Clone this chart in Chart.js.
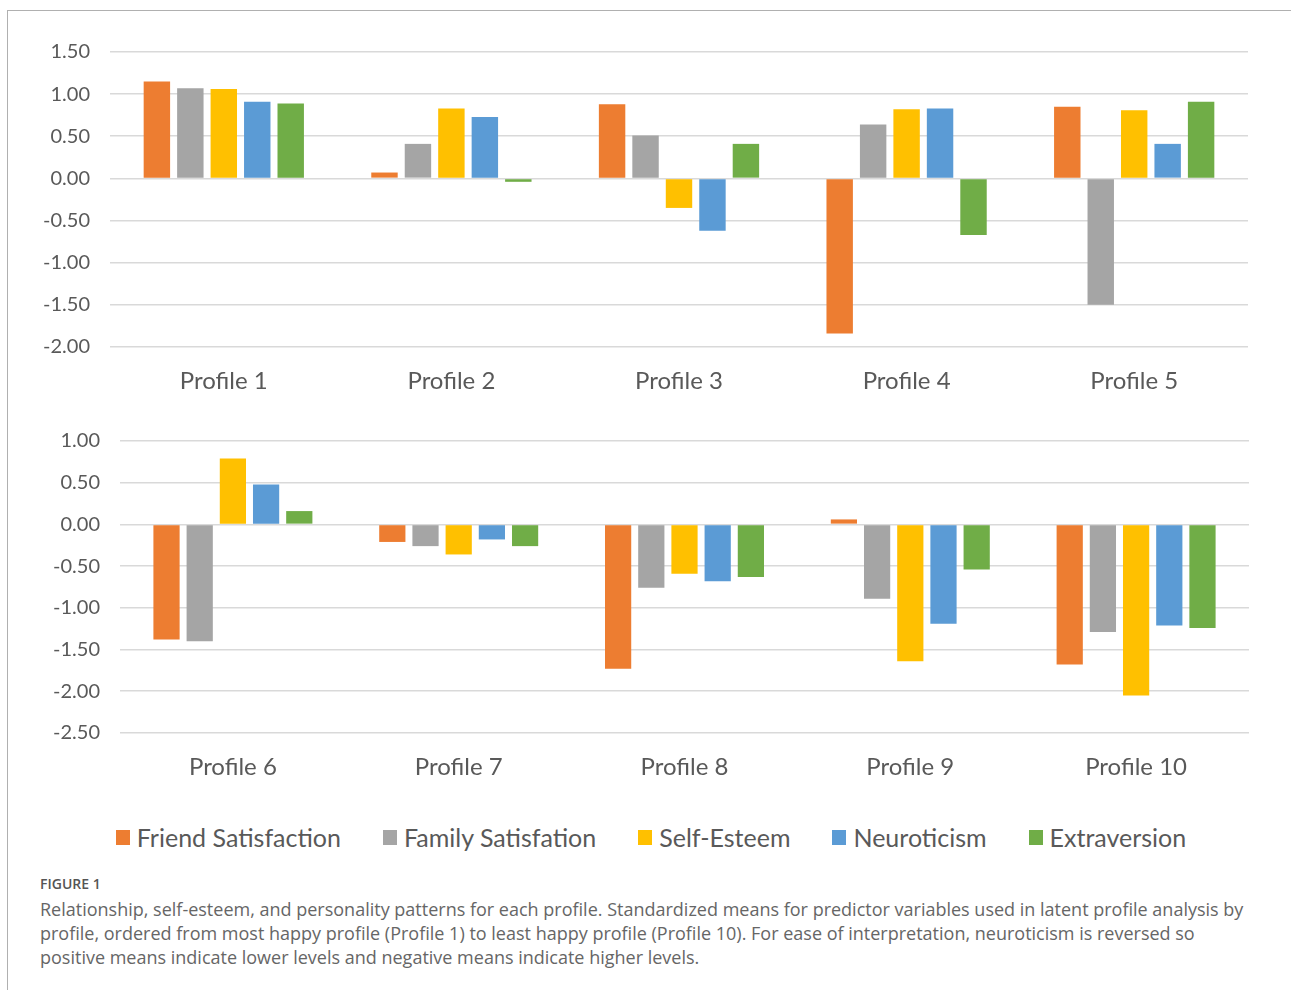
<!DOCTYPE html>
<html lang="en">
<head>
<meta charset="UTF-8">
<title>Profiles chart</title>
<script src="https://cdn.jsdelivr.net/npm/chart.js"></script>
<style>
    body { margin: 0; background: #fff; font-family: Lato, "Liberation Sans", sans-serif; }
    #page { position: relative; width: 1291px; height: 990px; overflow: hidden; }
    #frame { position: absolute; left: 7px; top: 10px; right: -2px; bottom: -2px; border-top: 1px solid #b0b0b0; border-left: 1px solid #b0b0b0; }
    canvas { position: absolute; left: 0; }
    #topChart { top: 0; }
    #bottomChart { top: 400px; }
    #legend { position: absolute; top: 822px; left: 0; width: 1291px; display: flex; justify-content: center; gap: 42px; font-size: 25px; color: #595959; padding-left: 11px; box-sizing: border-box; }
    #legend span.item { display: flex; align-items: center; white-space: nowrap; }
    #legend span.box { display: inline-block; width: 14px; height: 15px; margin-right: 7px; }
    #figLabel { position: absolute; left: 40px; top: 874px; font-family: "Open Sans", sans-serif; font-size: 14px; font-weight: 600; color: #555; }
    #caption { position: absolute; left: 40px; top: 897px; font-family: "Open Sans", sans-serif; font-size: 18px; line-height: 24px; color: #666; white-space: nowrap; }
</style>
</head>
<body>
<div id="page">
    <div id="frame"></div>
    <canvas id="topChart" width="1291" height="400"></canvas>
    <canvas id="bottomChart" width="1291" height="410"></canvas>
    <div id="legend"></div>
    <div id="figLabel">FIGURE 1</div>
    <div id="caption">Relationship, self-esteem, and personality patterns for each profile. Standardized means for predictor variables used in latent profile analysis by<br>profile, ordered from most happy profile (Profile 1) to least happy profile (Profile 10). For ease of interpretation, neuroticism is reversed so<br>positive means indicate lower levels and negative means indicate higher levels.</div>
</div>

<script>
    // profiles 1-10, split over two panels
    const profiles = ['Profile 1', 'Profile 2', 'Profile 3', 'Profile 4', 'Profile 5',
                      'Profile 6', 'Profile 7', 'Profile 8', 'Profile 9', 'Profile 10'];

    const seriesNames = ['Friend Satisfaction', 'Family Satisfation', 'Self-Esteem', 'Neuroticism', 'Extraversion'];
    const seriesColors = ['#ED7D31', '#A5A5A5', '#FFC000', '#5B9BD5', '#70AD47'];

    const friendSat    = [1.15, 0.07, 0.88, -1.84, 0.85, -1.38, -0.21, -1.73, 0.06, -1.68];
    const familySat    = [1.07, 0.41, 0.51, 0.64, -1.50, -1.40, -0.26, -0.76, -0.89, -1.29];
    const selfEsteem   = [1.06, 0.83, -0.35, 0.82, 0.81, 0.79, -0.36, -0.59, -1.64, -2.05];
    const neuroticism  = [0.91, 0.73, -0.62, 0.83, 0.41, 0.48, -0.18, -0.68, -1.19, -1.21];
    const extraversion = [0.89, -0.04, 0.41, -0.67, 0.91, 0.16, -0.26, -0.63, -0.54, -1.24];

    const allSeries = [friendSat, familySat, selfEsteem, neuroticism, extraversion];

    // y axis ranges for each panel
    const topRange = { min: -2.0, max: 1.5 };
    const bottomRange = { min: -2.5, max: 1.0 };

    function makeChart(id, from, to, range, box) {
        let ctx = document.getElementById(id).getContext('2d');
        let datasets = allSeries.map((vals, i) => ({
            label: seriesNames[i],
            data: vals.slice(from, to),
            backgroundColor: seriesColors[i],
            borderWidth: 0,
            barPercentage: 0.79,
            categoryPercentage: 0.735
        }));

        return new Chart(ctx, {
            type: 'bar',
            data: { labels: profiles.slice(from, to), datasets: datasets },
            options: {
                responsive: false,
                animation: false,
                layout: { padding: { top: box.top, right: box.right, left: 0, bottom: 0 } },
                plugins: { legend: { display: false }, tooltip: { enabled: false } },
                scales: {
                    x: {
                        grid: { display: false, drawTicks: false },
                        border: { display: false },
                        ticks: { color: '#595959', font: { family: 'Lato', size: 24 }, padding: 20, maxRotation: 0 },
                        afterFit: function(scale) { scale.height = box.xHeight; }
                    },
                    y: {
                        min: range.min,
                        max: range.max,
                        grid: { color: '#D9D9D9', lineWidth: 1.6, drawTicks: false },
                        border: { display: false },
                        ticks: {
                            stepSize: 0.5,
                            color: '#595959',
                            padding: 20,
                            font: { family: 'Lato', size: 20 },
                            callback: v => v.toFixed(2)
                        },
                        afterFit: function(scale) { scale.width = box.yWidth; }
                    }
                }
            }
        });
    }

    makeChart('topChart', 0, 5, topRange, { top: 52, right: 43, yWidth: 110, xHeight: 53 });
    makeChart('bottomChart', 5, 10, bottomRange, { top: 41, right: 42, yWidth: 120, xHeight: 77 });

    // legend below both panels
    let legend = document.getElementById('legend');
    seriesNames.forEach((name, i) => {
        legend.innerHTML += `<span class="item"><span class="box" style="background:${seriesColors[i]}"></span>${name}</span>`;
    });
</script>
</body>
</html>
